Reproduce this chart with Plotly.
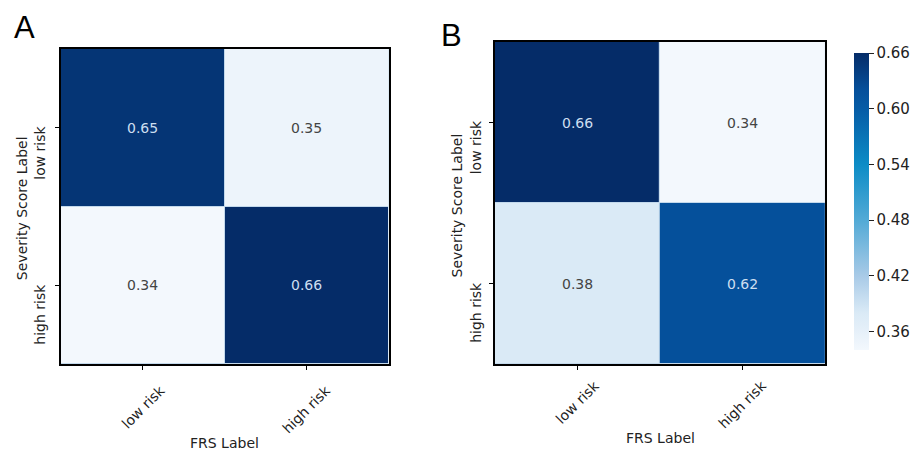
import plotly.graph_objects as go

# ---- data ----
frs_labels = ["low risk", "high risk"]        # x categories (FRS Label)
severity_labels = ["low risk", "high risk"]   # y categories (Severity Score Label)
matrix_a = [[0.65, 0.35],
            [0.34, 0.66]]
matrix_b = [[0.66, 0.34],
            [0.38, 0.62]]
cbar_ticks = [0.36, 0.42, 0.48, 0.54, 0.60, 0.66]
panel_labels = ["A", "B"]
zmin, zmax = 0.34, 0.66

W, H = 920, 452
blues = [
    [0.0, "rgb(243,248,253)"],
    [0.0625, "rgb(230,240,249)"],
    [0.125, "rgb(218,234,246)"],
    [0.25, "rgb(168,202,231)"],
    [0.4375, "rgb(82,170,214)"],
    [0.625, "rgb(12,140,198)"],
    [0.8125, "rgb(6,92,166)"],
    [0.875, "rgb(5,80,155)"],
    [1.0, "rgb(5,44,104)"],
]

FONT = "DejaVu Sans"

def px_x(p):
    return p / W

def px_y(p):
    return 1 - p / H

panels = [
    dict(m=matrix_a, x0=62, x1=395, y0=49, y1=364, xs="x", ys="y",
         xlab_shift=-15, ylab_shift=-11, lab=(12, 8), ytitle_x=22, xtitle_y=443),
    dict(m=matrix_b, x0=503, x1=839, y0=42, y1=364, xs="x2", ys="y2",
         xlab_shift=-10, ylab_shift=-9, lab=(446, 16), ytitle_x=465, xtitle_y=438),
]

fig = go.Figure()
annotations = []
layout_axes = {}

for k, p in enumerate(panels):
    fig.add_trace(go.Heatmap(
        z=p["m"], x=frs_labels, y=severity_labels,
        zmin=zmin, zmax=zmax, colorscale=blues,
        xaxis=p["xs"], yaxis=p["ys"],
        xgap=1, ygap=1,
        showscale=(k == 1),
        hoverinfo="skip",
        colorbar=dict(
            x=px_x(858), xanchor="left", thickness=15, thicknessmode="pixels",
            len=317, lenmode="pixels", y=px_y(201.5), yanchor="middle",
            outlinewidth=0, tickvals=cbar_ticks, ticktext=[f"{t:.2f}" for t in cbar_ticks],
            ticks="outside", ticklen=5, tickwidth=1, tickcolor="#222",
            tickfont=dict(family=FONT, size=15, color="#222"),
        ),
    ))
    xname = "xaxis" if k == 0 else "xaxis2"
    yname = "yaxis" if k == 0 else "yaxis2"
    common = dict(showline=True, mirror=True, linecolor="black", linewidth=1.5,
                  ticks="outside", ticklen=4, tickcolor="black", tickwidth=1,
                  showticklabels=False, showgrid=False, zeroline=False,
                  fixedrange=True, type="category")
    layout_axes[xname] = dict(domain=[px_x(p["x0"]), px_x(p["x1"])],
                              anchor=p["ys"], **common)
    layout_axes[yname] = dict(domain=[px_y(p["y1"]), px_y(p["y0"])],
                              anchor=p["xs"], autorange="reversed", **common)

    mid = (zmin + zmax) / 2
    for i, row in enumerate(p["m"]):
        for j, v in enumerate(row):
            annotations.append(dict(
                x=frs_labels[j], y=severity_labels[i], xref=p["xs"], yref=p["ys"],
                text=f"{v:.2f}", showarrow=False,
                font=dict(family=FONT, size=14,
                          color="#cddff0" if v > mid else "#444444"),
            ))
    # x tick labels (rotated 45)
    for lab in frs_labels:
        annotations.append(dict(
            x=lab, xref=p["xs"], y=0, yref=p["ys"] + " domain",
            text=lab, textangle=-45, showarrow=False,
            xanchor="center", yanchor="top", yshift=p["xlab_shift"],
            font=dict(family=FONT, size=14, color="#222"),
        ))
    # y tick labels (rotated 90)
    for lab in severity_labels:
        annotations.append(dict(
            x=0, xref=p["xs"] + " domain", y=lab, yref=p["ys"],
            text=lab, textangle=-90, showarrow=False,
            xanchor="right", yanchor="top", xshift=p["ylab_shift"], yshift=4,
            font=dict(family=FONT, size=14, color="#222"),
        ))
    # axis titles
    annotations.append(dict(
        x=px_x((p["x0"] + p["x1"]) / 2), y=px_y(p["xtitle_y"]), xref="paper", yref="paper",
        text="FRS Label", showarrow=False, xanchor="center", yanchor="middle",
        font=dict(family=FONT, size=14, color="#222"),
    ))
    annotations.append(dict(
        x=px_x(p["ytitle_x"]), y=px_y((p["y0"] + p["y1"]) / 2 + 2), xref="paper", yref="paper",
        text="Severity Score Label", textangle=-90, showarrow=False,
        xanchor="center", yanchor="middle",
        font=dict(family=FONT, size=14, color="#222"),
    ))
    # panel label
    annotations.append(dict(
        x=px_x(p["lab"][0]), y=px_y(p["lab"][1]), xref="paper", yref="paper",
        text=panel_labels[k], showarrow=False, xanchor="left", yanchor="top",
        font=dict(family="Liberation Sans", size=31, color="black"),
    ))

fig.update_layout(
    width=W, height=H, margin=dict(l=0, r=0, t=0, b=0),
    paper_bgcolor="white", plot_bgcolor="#c3d9ec",
    annotations=annotations, showlegend=False,
    **layout_axes,
)

fig.write_html("out.html", config={"displayModeBar": False},
               post_script="document.body.style.margin='0';document.body.style.padding='0';")
